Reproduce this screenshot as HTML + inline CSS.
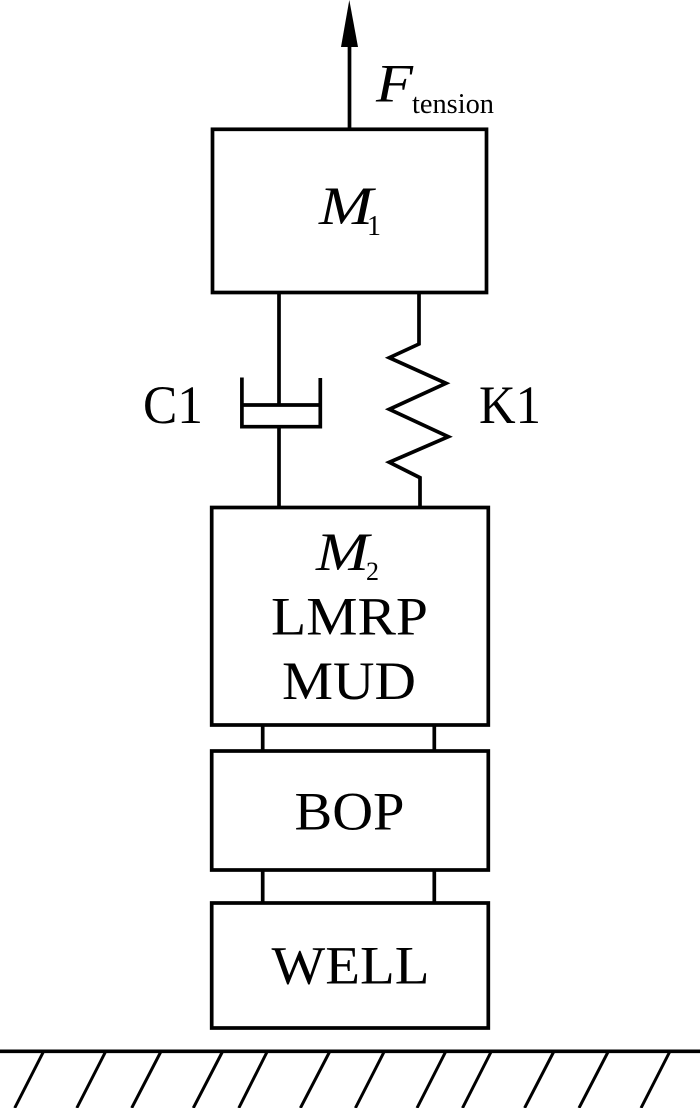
<!DOCTYPE html>
<html>
<head>
<meta charset="utf-8">
<style>
html,body{margin:0;padding:0;background:#fff;width:700px;height:1108px;overflow:hidden}
svg{display:block;filter:blur(0.35px)}
text{font-family:"Liberation Serif",serif;fill:#000}
.l{stroke:#000;stroke-width:3.7;fill:none}
.t{font-size:54px}
.i{font-size:54px;font-style:italic}
</style>
</head>
<body>
<svg width="700" height="1108" viewBox="0 0 700 1108" xmlns="http://www.w3.org/2000/svg">
<rect width="700" height="1108" fill="#fff"/>
<!-- arrow -->
<line class="l" x1="349.5" y1="129" x2="349.5" y2="46"/>
<polygon points="349.3,0 341,47 358,47" fill="#000"/>
<!-- boxes -->
<rect class="l" x="212.5" y="129.3" width="274" height="163.2"/>
<rect class="l" x="211.7" y="507.5" width="276.6" height="217.5"/>
<rect class="l" x="211.7" y="751" width="276.6" height="119"/>
<rect class="l" x="211.7" y="903" width="276.6" height="125"/>
<!-- dashpot -->
<line class="l" x1="279" y1="293" x2="279" y2="405"/>
<line class="l" x1="279" y1="427" x2="279" y2="507"/>
<path class="l" d="M241.9 377.5V426.7H320.3V378"/>
<line class="l" x1="242" y1="405" x2="320" y2="405"/>
<!-- spring -->
<polyline class="l" points="419,293 419,344 389.3,357.7 446,383.3 389.3,409.3 448.3,436.7 389.3,462.3 420,477.7 420,507"/>
<!-- connectors -->
<line class="l" x1="262.7" y1="725" x2="262.7" y2="751"/>
<line class="l" x1="434.3" y1="725" x2="434.3" y2="751"/>
<line class="l" x1="262.7" y1="870" x2="262.7" y2="903"/>
<line class="l" x1="434.3" y1="870" x2="434.3" y2="903"/>
<!-- ground -->
<line class="l" x1="0" y1="1051.3" x2="700" y2="1051.3"/>
<g stroke="#000" stroke-width="3" fill="none">
<line x1="43.3" y1="1052" x2="14.7" y2="1108"/>
<line x1="105.4" y1="1052" x2="76.8" y2="1108"/>
<line x1="160.7" y1="1052" x2="131.7" y2="1108"/>
<line x1="222.3" y1="1052" x2="193.3" y2="1108"/>
<line x1="267" y1="1052" x2="238.8" y2="1108"/>
<line x1="329.5" y1="1052" x2="300.4" y2="1108"/>
<line x1="384" y1="1052" x2="355.4" y2="1108"/>
<line x1="445.5" y1="1052" x2="417" y2="1108"/>
<line x1="491" y1="1052" x2="462.5" y2="1108"/>
<line x1="553.6" y1="1052" x2="524.6" y2="1108"/>
<line x1="608" y1="1052" x2="579" y2="1108"/>
<line x1="669.6" y1="1052" x2="641" y2="1108"/>
</g>
<!-- labels -->
<text class="i" x="376" y="101.7" textLength="37" lengthAdjust="spacingAndGlyphs">F</text>
<text x="412" y="113" font-size="28" textLength="82" lengthAdjust="spacingAndGlyphs">tension</text>
<text class="i" x="319" y="224" textLength="54" lengthAdjust="spacingAndGlyphs">M</text>
<text x="367" y="235" font-size="28">1</text>
<text class="t" x="143" y="423" textLength="60" lengthAdjust="spacingAndGlyphs">C1</text>
<text class="t" x="479" y="423" textLength="62" lengthAdjust="spacingAndGlyphs">K1</text>
<text class="i" x="316" y="570" textLength="53" lengthAdjust="spacingAndGlyphs">M</text>
<text x="366" y="580" font-size="26">2</text>
<text class="t" x="271" y="634.3" textLength="157" lengthAdjust="spacingAndGlyphs">LMRP</text>
<text class="t" x="282" y="699" textLength="134" lengthAdjust="spacingAndGlyphs">MUD</text>
<text class="t" x="294.5" y="829.3" textLength="110" lengthAdjust="spacingAndGlyphs">BOP</text>
<text class="t" x="271.5" y="983.3" textLength="158" lengthAdjust="spacingAndGlyphs">WELL</text>
</svg>
</body>
</html>
